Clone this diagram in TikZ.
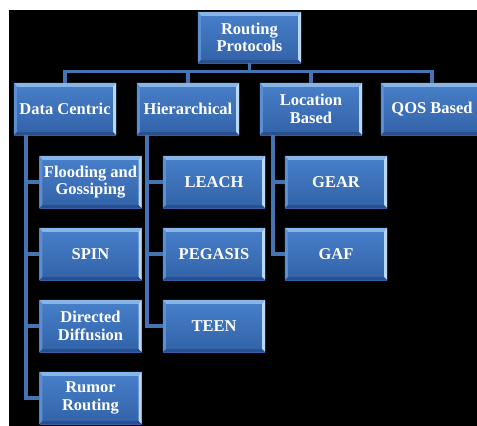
\documentclass[tikz,border=0pt]{standalone}
\usepackage{fontspec}
\setmainfont{Liberation Serif}
\begin{document}
\begin{tikzpicture}[x=1pt,y=-1pt,
  box/.style={minimum width=102pt,minimum height=52pt,inner sep=1pt,align=center,
    top color=boxtop,bottom color=boxbot,text=white,
    font=\fontsize{16.5}{17.5}\selectfont\bfseries},
  conn/.style={draw=conncol,line width=3.4pt}]
\definecolor{boxtop}{HTML}{4880CA}
\definecolor{boxbot}{HTML}{3262A8}
\definecolor{bevtop}{HTML}{88B4E8}
\definecolor{bevleft}{HTML}{5B8ED2}
\definecolor{bevright}{HTML}{B8D8F6}
\definecolor{bevbot}{HTML}{28508C}
\definecolor{conncol}{HTML}{4674B2}
\useasboundingbox (0,0) rectangle (477,426);
\clip (0,0) rectangle (477,426);
\fill[white] (0,0) rectangle (477,426);
\fill[black] (9,10) rectangle (477,426);

\node[box,minimum width=103pt,minimum height=51pt] (root) at (249.5,37.5) {Routing\\Protocols};
\node[box] (dc)  at (65,109)  {Data Centric};
\node[box] (hi)  at (188,109) {Hierarchical};
\node[box] (lb)  at (311,109) {Location\\Based};
\node[box] (qos) at (432,109) {QOS Based};

\node[box] (fg) at (90.5,182) {Flooding and\\Gossiping};
\node[box] (spin) at (90.5,254) {SPIN};
\node[box] (dd) at (90.5,326) {Directed\\Diffusion};
\node[box] (rr) at (90.5,398) {Rumor\\Routing};

\node[box] (leach) at (214,182) {LEACH};
\node[box] (peg) at (214,254) {PEGASIS};
\node[box] (teen) at (214,326) {TEEN};

\node[box] (gear) at (336,182) {GEAR};
\node[box] (gaf) at (336,254) {GAF};

\foreach \n in {root,dc,hi,lb,qos,fg,spin,dd,rr,leach,peg,teen,gear,gaf}{
  \fill[bevtop] (\n.north west) -- (\n.north east) -- ([shift={(-3,4)}]\n.north east) -- ([shift={(3,4)}]\n.north west) -- cycle;
  \fill[bevleft] (\n.north west) -- ([shift={(3,4)}]\n.north west) -- ([shift={(3,-3)}]\n.south west) -- (\n.south west) -- cycle;
  \fill[bevright] (\n.north east) -- ([shift={(-3,4)}]\n.north east) -- ([shift={(-3,-3)}]\n.south east) -- (\n.south east) -- cycle;
  \fill[bevbot] (\n.south west) -- ([shift={(3,-3)}]\n.south west) -- ([shift={(-3,-3)}]\n.south east) -- (\n.south east) -- cycle;
}

\foreach \c in {dc,hi,lb,qos}{
  \draw[conn] (root.south) -- ++(0,8) -| (\c.north);
}
\foreach \c in {fg,spin,dd,rr}{
  \draw[conn] ([xshift=12pt]dc.south west) |- (\c.west);
}
\foreach \c in {leach,peg,teen}{
  \draw[conn] ([xshift=10pt]hi.south west) |- (\c.west);
}
\foreach \c in {gear,gaf}{
  \draw[conn] ([xshift=13pt]lb.south west) |- (\c.west);
}
\end{tikzpicture}
\end{document}
